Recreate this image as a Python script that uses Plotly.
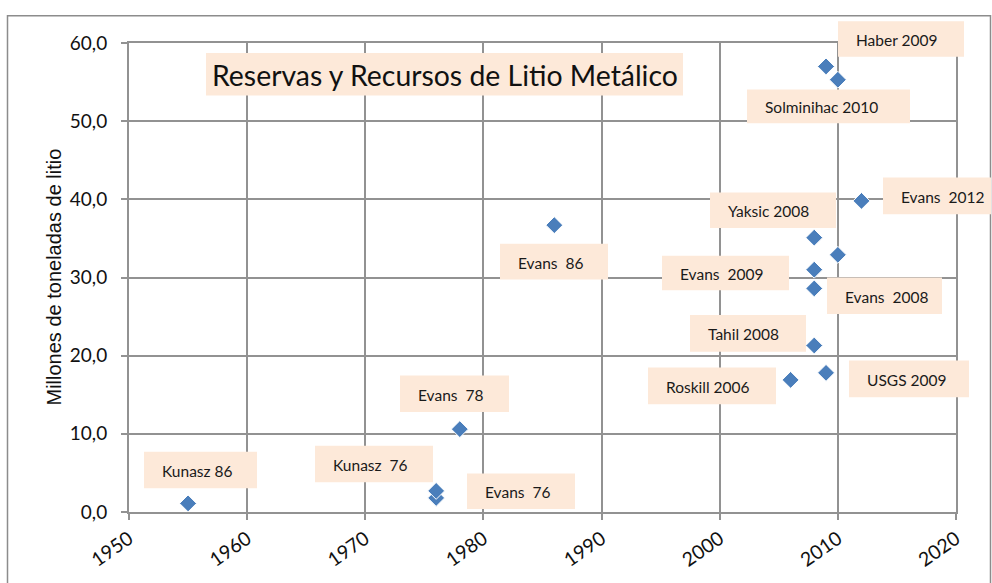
import plotly.graph_objects as go

# ---------------- data ----------------
years = [1955, 1976, 1976, 1978, 1986, 2009, 2010, 2012, 2008, 2010, 2008, 2008, 2008, 2006, 2009]
values = [1.1, 1.8, 2.7, 10.6, 36.7, 57.0, 55.3, 39.8, 35.1, 32.9, 31.0, 28.6, 21.3, 16.9, 17.8]

label_texts = ["Haber 2009", "Solminihac 2010", "Evans  2012", "Yaksic 2008", "Evans  86",
               "Evans  2009", "Evans  2008", "Tahil 2008", "USGS 2009", "Roskill 2006",
               "Evans  78", "Kunasz 86", "Kunasz  76", "Evans  76"]

title_text = "Reservas y Recursos de Litio Metálico"
y_title = "Millones de toneladas de litio"
x_ticks = [1950, 1960, 1970, 1980, 1990, 2000, 2010, 2020]
y_ticks = [0, 10, 20, 30, 40, 50, 60]

# ---------------- layout (pixel geometry) ----------------
W, H = 992, 583
PL, PR, PT, PB = 129, 956, 43, 517   # plot area in px

# label boxes: (x0, y0, x1, y1) in px
label_boxes = [(838, 21, 964, 57), (747, 90, 910, 124), (883, 179, 991, 216), (710, 194, 836, 230),
               (500, 246, 608, 282), (662, 258, 789, 293), (827, 280, 942, 317), (690, 318, 806, 355),
               (849, 364, 969, 401), (648, 371, 776, 408), (400, 379, 509, 416), (144, 456, 257, 493),
               (315, 450, 433, 487), (467, 478, 575, 514)]
title_box = (206, 53, 683, 96)

BOX_FILL = "#FDE9D9"
GRID = "#929292"
FONT = "Lato"


def px(x):
    return (x - PL) / (PR - PL)


def py(y):
    return (PB - y) / (PB - PT)


fig = go.Figure()
fig.add_trace(go.Scatter(
    x=years, y=values, mode="markers",
    marker=dict(symbol="diamond", size=13, color="#4A7EBB",
                line=dict(color="white", width=1)),
    showlegend=False, hoverinfo="x+y",
))

shapes = []
annotations = []

# outer chart border
shapes.append(dict(type="rect", xref="paper", yref="paper",
                   x0=px(7.5), x1=px(990.5), y0=py(600), y1=py(15.5),
                   line=dict(color="#8c8c8c", width=1.5), fillcolor="rgba(0,0,0,0)",
                   layer="below"))

for txt, (x0, y0, x1, y1) in zip(label_texts, label_boxes):
    shapes.append(dict(type="rect", xref="paper", yref="paper",
                       x0=px(x0), x1=px(x1), y0=py(y1), y1=py(y0),
                       line=dict(width=0), fillcolor=BOX_FILL, layer="above"))
    annotations.append(dict(text=txt, xref="paper", yref="paper",
                            x=px(x0 + 16), y=py((y0 + y1) / 2 + 1),
                            xanchor="left", yanchor="middle", showarrow=False,
                            font=dict(family=FONT, size=15.5, color="#1a1a1a")))

# title box
x0, y0, x1, y1 = title_box
shapes.append(dict(type="rect", xref="paper", yref="paper",
                   x0=px(x0), x1=px(x1), y0=py(y1), y1=py(y0),
                   line=dict(width=0), fillcolor=BOX_FILL, layer="above"))
annotations.append(dict(text=title_text, xref="paper", yref="paper",
                        x=px((x0 + x1) / 2), y=py((y0 + y1) / 2 + 1),
                        xanchor="center", yanchor="middle", showarrow=False,
                        font=dict(family=FONT, size=28.4, color="#111111")))

# y axis title
annotations.append(dict(text=y_title, xref="paper", yref="paper",
                        x=px(53), y=py(280), textangle=-90,
                        xanchor="center", yanchor="middle", showarrow=False,
                        font=dict(family="Liberation Sans", size=20, color="#111111")))

fig.update_layout(
    width=W, height=H,
    margin=dict(l=PL, r=W - PR, t=PT, b=H - PB, pad=0),
    paper_bgcolor="white", plot_bgcolor="white",
    separators=",.",
    shapes=shapes, annotations=annotations,
    font=dict(family=FONT, size=19, color="#111111"),
)
fig.update_xaxes(range=[1950, 2020], tickvals=x_ticks, ticktext=[str(v) for v in x_ticks],
                 tickangle=-35, showgrid=True, gridcolor=GRID, gridwidth=2,
                 showline=True, linecolor=GRID, linewidth=2, mirror=True,
                 ticks="outside", ticklen=6, tickcolor=GRID, tickwidth=2,
                 zeroline=False, tickfont=dict(family=FONT, size=19.5, color="#111111"))
fig.update_yaxes(range=[0, 60], tickvals=y_ticks, tickformat=".1f",
                 showgrid=True, gridcolor=GRID, gridwidth=2,
                 showline=True, linecolor=GRID, linewidth=2, mirror=True,
                 ticks="outside", ticklen=6, tickcolor=GRID, tickwidth=2,
                 ticklabelstandoff=10,
                 zeroline=False, tickfont=dict(family=FONT, size=19, color="#111111"))

fig.write_html("out.html", config={"displayModeBar": False},
               post_script="document.body.style.margin='0';document.body.style.overflow='hidden';")
